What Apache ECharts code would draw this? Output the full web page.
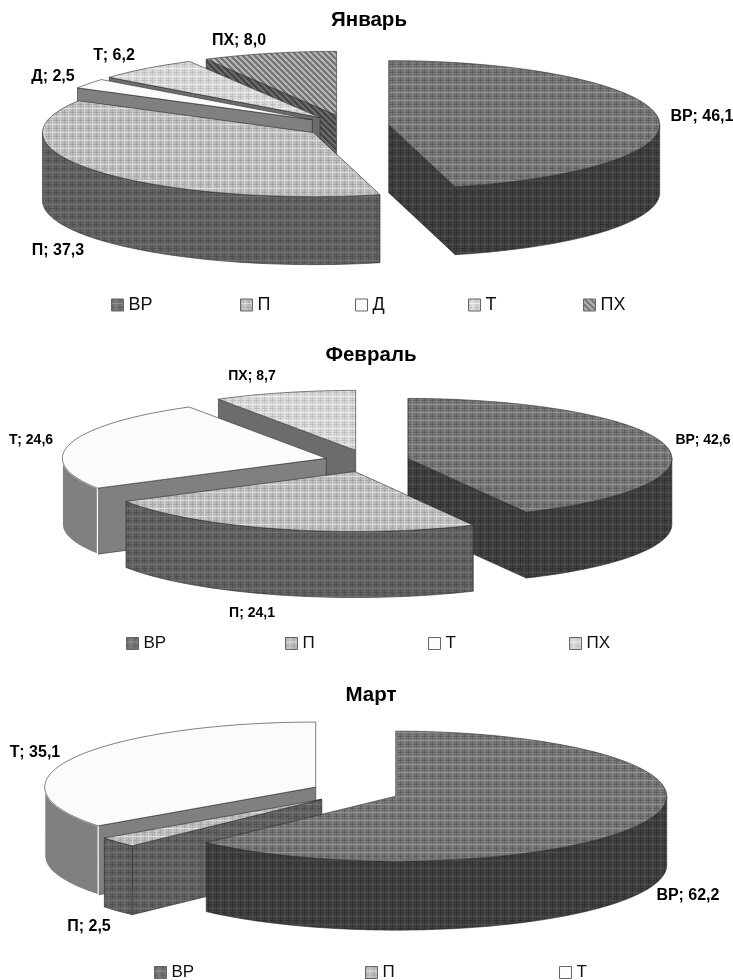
<!DOCTYPE html>
<html>
<head>
<meta charset="utf-8">
<style>
  body { margin: 0; background: #fff; }
  #chart { width: 733px; height: 980px; }
</style>
<script src="https://cdn.jsdelivr.net/npm/echarts@6/dist/echarts.min.js"></script>
</head>
<body>
<div id="chart"></div>
<script>
// значения
const januaryCategories = ["ВР", "П", "Д", "Т", "ПХ"];
const januaryValues = [46.1, 37.3, 2.5, 6.2, 8.0];
const februaryCategories = ["ВР", "П", "Т", "ПХ"];
const februaryValues = [42.6, 24.1, 24.6, 8.7];
const marchCategories = ["ВР", "П", "Т"];
const marchValues = [62.2, 2.5, 35.1];

function plaid(base, line, dot) {
  const c = document.createElement("canvas");
  c.width = c.height = 8;
  const g = c.getContext("2d");
  g.fillStyle = base;
  g.fillRect(0, 0, 8, 8);
  g.fillStyle = line;
  g.fillRect(0, 0, 8, 1);
  g.fillRect(0, 0, 1, 8);
  g.fillRect(2, 4, 1, 1);
  g.fillRect(6, 4, 1, 1);
  g.fillStyle = dot;
  g.fillRect(4, 0, 1, 8);
  g.fillRect(0, 4, 8, 1);
  g.fillStyle = base;
  g.fillRect(4, 2, 1, 1);
  g.fillRect(4, 6, 1, 1);
  return { image: c, repeat: "repeat" };
}

function stripes(light, dark) {
  const c = document.createElement("canvas");
  c.width = c.height = 6;
  const g = c.getContext("2d");
  g.fillStyle = light;
  g.fillRect(0, 0, 6, 6);
  g.fillStyle = dark;
  for (let i = 0; i < 6; i++) {
    g.fillRect(i, i, 1, 1);
    g.fillRect((i + 1) % 6, i, 1, 1);
    g.fillRect((i + 2) % 6, i, 1, 1);
  }
  return { image: c, repeat: "repeat" };
}

const looks = {
  dark: { top: plaid("#747474", "#606060", "#929292"), wall: plaid("#3d3d3d", "#303030", "#4e4e4e") },
  light: { top: plaid("#bebebe", "#a8a8a8", "#dedede"), wall: plaid("#5f5f5f", "#505050", "#727272") },
  dots: { top: plaid("#d6d6d6", "#c0c0c0", "#eeeeee"), wall: "#6c6c6c" },
  hatch: { top: stripes("#b4b4b4", "#747474"), wall: stripes("#6a6a6a", "#444444") },
  blank: { top: "#fbfbfb", wall: "#808080" },
};

const months = [
  {
    title: "Январь", titleX: 369, titleY: 20,
    categories: januaryCategories, values: januaryValues,
    looks: ["dark", "light", "blank", "dots", "hatch"],
    pie: { cx: 347, cy: 126, rx: 271, ry: 64, depth: 68, ex: 42, ey: 11 },
    labelFont: "bold 16px 'Liberation Sans'",
    labels: [[702, 117], [58, 251], [53, 77], [114, 56], [239, 41]],
    legendX: [111, 240, 355, 468, 583], legendY: 296, legendSize: 18,
  },
  {
    title: "Февраль", titleX: 371, titleY: 355,
    categories: februaryCategories, values: februaryValues,
    looks: ["dark", "light", "blank", "dots"],
    pie: { cx: 367, cy: 461, rx: 264, ry: 60, depth: 66, ex: 42, ey: 11 },
    labelFont: "bold 14px 'Liberation Sans'",
    labels: [[703, 440], [252, 613], [31, 440], [252, 376]],
    legendX: [126, 285, 428, 569], legendY: 635, legendSize: 17,
  },
  {
    title: "Март", titleX: 371, titleY: 695,
    categories: marchCategories, values: marchValues,
    looks: ["dark", "light", "blank"],
    pie: { cx: 355, cy: 792, rx: 271, ry: 65, depth: 69, ex: 44, ey: 11 },
    labelFont: "bold 16px 'Liberation Sans'",
    labels: [[688, 896], [89, 927], [35, 753]],
    legendX: [154, 365, 559], legendY: 964, legendSize: 17,
  },
];

const rad = (d) => (d * Math.PI) / 180;

function arc(p, x, y, from, to) {
  const pts = [];
  const n = Math.max(1, Math.ceil(Math.abs(to - from) / 2));
  for (let i = 0; i <= n; i++) {
    const t = rad(from + ((to - from) * i) / n);
    pts.push([x + p.rx * Math.sin(t), y - p.ry * Math.cos(t)]);
  }
  return pts;
}

function poly(points, fill, extra) {
  return {
    type: "polygon",
    shape: { points },
    style: Object.assign({ fill, stroke: "#2b2b2b", lineWidth: 0.6 }, extra),
  };
}

// один сектор: стенки, потом верх, потом подпись
function sliceShapes(m, i, a, b) {
  const p = m.pie;
  const mid = rad((a + b) / 2);
  const x = p.cx + p.ex * Math.sin(mid);
  const y = p.cy - p.ey * Math.cos(mid);
  const look = looks[m.looks[i]];
  const kids = [];
  const wall = (t) => {
    const e = arc(p, x, y, t, t)[0];
    return poly([[x, y], e, [e[0], e[1] + p.depth], [x, y + p.depth]], look.wall);
  };
  if (Math.sin(rad(a)) < -0.001) kids.push(wall(a));
  if (Math.sin(rad(b)) > 0.001) kids.push(wall(b));
  const from = Math.max(a, 90);
  const to = Math.min(b, 270);
  if (to > from) {
    const upper = arc(p, x, y, from, to);
    const lower = arc(p, x, y + p.depth, to, from);
    // у белых секторов стык стенок светлый
    const edge = m.looks[i] === "blank" ? { stroke: "#ffffff", lineWidth: 1.2 } : {};
    kids.push(poly(upper.concat(lower), look.wall, edge));
  }
  kids.push(poly([[x, y]].concat(arc(p, x, y, a, b)), look.top));
  return kids;
}

function monthSeries(m) {
  const total = m.values.reduce((s, v) => s + v, 0);
  let start = 0;
  const list = m.values.map((v, i) => {
    const a = start;
    const b = start + (v / total) * 360;
    start = b;
    return { i, a, b, mid: (a + b) / 2 };
  });
  // сзади вперёд, сектор с 180° рисуем последним
  const front = (s) => (s.a < 180 && s.b > 180 ? 2 : -Math.cos(rad(s.mid)));
  list.sort((s, t) => front(s) - front(t));
  return list.map((s) => {
    const look = looks[m.looks[s.i]];
    const cat = m.categories[s.i];
    const text = cat + "; " + m.values[s.i].toFixed(1).replace(".", ",");
    return {
      type: "custom",
      name: m.title + " " + cat,
      coordinateSystem: "none",
      silent: true,
      itemStyle: { color: look.top },
      data: [m.values[s.i]],
      renderItem() {
        const kids = sliceShapes(m, s.i, s.a, s.b);
        kids.push({
          type: "text",
          x: m.labels[s.i][0],
          y: m.labels[s.i][1],
          z2: 100,
          style: { text, font: m.labelFont, fill: "#000", align: "center", verticalAlign: "middle" },
        });
        return { type: "group", children: kids };
      },
    };
  });
}

const legends = [];
months.forEach((m) => {
  m.categories.forEach((cat, i) => {
    legends.push({
      data: [m.title + " " + cat],
      left: m.legendX[i],
      top: m.legendY,
      padding: 0,
      icon: "rect",
      itemWidth: 12,
      itemHeight: 12,
      selectedMode: false,
      formatter: (name) => name.split(" ")[1],
      itemStyle: { borderColor: "#666", borderWidth: 1 },
      textStyle: { fontFamily: "Liberation Sans", fontSize: m.legendSize, color: "#111" },
    });
  });
});

const chart = echarts.init(document.getElementById("chart"));
chart.setOption({
  animation: false,
  backgroundColor: "#fff",
  title: months.map((m) => ({
    text: m.title,
    left: m.titleX,
    top: m.titleY,
    textAlign: "center",
    textVerticalAlign: "middle",
    padding: 0,
    textStyle: { fontFamily: "Liberation Sans", fontWeight: "bold", fontSize: 20.5, color: "#000" },
  })),
  legend: legends,
  series: months.flatMap(monthSeries),
});
</script>
</body>
</html>
